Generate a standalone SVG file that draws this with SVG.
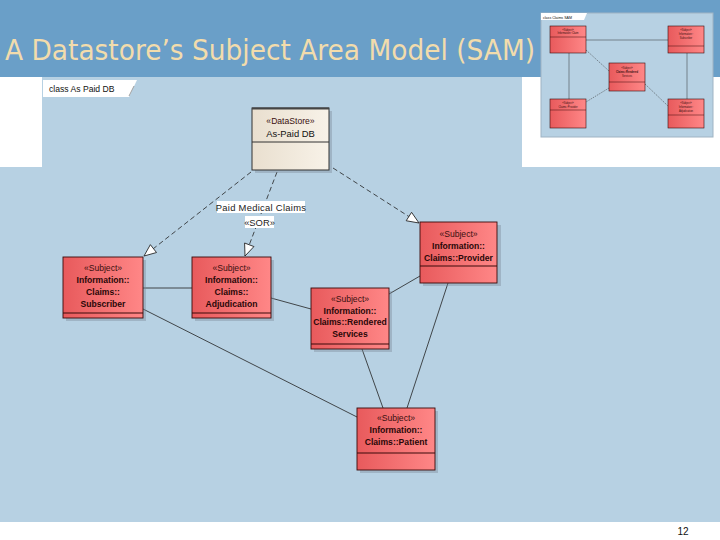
<svg xmlns="http://www.w3.org/2000/svg" width="720" height="540" viewBox="0 0 720 540">
<defs>
<linearGradient id="red" x1="0" y1="0" x2="1" y2="0">
<stop offset="0" stop-color="#e85a5c"/>
<stop offset="1" stop-color="#ff8787"/>
</linearGradient>
<linearGradient id="cream" x1="0" y1="0" x2="1" y2="0">
<stop offset="0" stop-color="#e9dfcf"/>
<stop offset="1" stop-color="#f8f2e8"/>
</linearGradient>
<marker id="open" markerUnits="userSpaceOnUse" markerWidth="16" markerHeight="14" refX="13" refY="6" orient="auto">
<path d="M1,1 L13,6 L1,11 Z" fill="#ffffff" stroke="#222" stroke-width="0.8"/>
</marker>
<style>
.st{font-family:"Liberation Sans",Arial,sans-serif;font-size:8.6px;fill:#3a1010;text-anchor:middle}
.nm{font-family:"Liberation Sans",Arial,sans-serif;font-size:8.6px;font-weight:bold;fill:#2a0808;text-anchor:middle}
.box{fill:url(#red);stroke:#3a0a0a;stroke-width:0.9}
.shadow{fill:#7a8a99;opacity:0.4}
.div{stroke:#3a0a0a;stroke-width:1.2}
.dash{fill:none;stroke:#222;stroke-width:0.8;stroke-dasharray:5,3}
.solid{fill:none;stroke:#222;stroke-width:0.8}
.lbl{font-family:"Liberation Sans",Arial,sans-serif;font-size:9.4px;fill:#222;text-anchor:middle}
.tt{font-family:"Liberation Sans",Arial,sans-serif;font-size:2.6px;fill:#3a1010;text-anchor:middle}
.tbox{fill:url(#red);stroke:#3a0a0a;stroke-width:0.6}
</style>
</defs>

<!-- background -->
<rect x="0" y="0" width="720" height="540" fill="#ffffff"/>
<rect x="0" y="0" width="720" height="77" fill="#6a9fc8"/>
<path d="M42,77 H522 V167 H720 V522 H0 V167 H42 Z" fill="#b7d1e3"/>
<text x="5" y="60" font-family="'DejaVu Sans',Verdana,sans-serif" font-size="28" fill="#f2dcac" textLength="530" lengthAdjust="spacingAndGlyphs">A Datastore’s Subject Area Model (SAM)</text>
<text x="683" y="535" font-family="'Liberation Sans',Arial,sans-serif" font-size="10" fill="#111" text-anchor="middle">12</text>

<!-- diagram frame tab -->
<g id="frame-tab">
<path d="M43,80 H137 L129,97 H43 Z" fill="#ffffff"/>
<path d="M134,86 L129,96" stroke="#888" stroke-width="0.8"/>
<text x="49" y="92" font-family="'Liberation Sans',Arial,sans-serif" font-size="8.6" fill="#111">class As Paid DB</text>
</g>

<!-- thumbnail -->
<g id="thumbnail">
<rect x="541" y="13" width="172" height="124" fill="#b7d1e3" stroke="#9fb3c3" stroke-width="1"/>
<path d="M541,13 H587 L584,20 H541 Z" fill="#ffffff"/>
<text x="543" y="18.5" font-family="'Liberation Sans',Arial,sans-serif" font-size="3.6" fill="#111">class Claims SAM</text>
<g fill="none" stroke="#333" stroke-width="0.5">
<path d="M586,40 H668"/>
<path d="M569,53 V99"/>
<path d="M687,53 V99"/>
<path d="M586,50 L609,71" stroke-dasharray="1.5,1"/>
<path d="M609,88 L586,102" stroke-dasharray="1.5,1"/>
<path d="M645,84 L668,106" stroke-dasharray="1.5,1"/>
</g>
<rect x="550" y="26" width="36" height="27" class="tbox"/>
<line x1="550" y1="37" x2="586" y2="37" stroke="#3a0a0a" stroke-width="0.5"/>
<text x="568" y="31" class="tt">«Subject»</text>
<text x="568" y="34" class="tt">Information::Claim</text>
<rect x="668" y="26" width="36" height="27" class="tbox"/>
<line x1="668" y1="46" x2="704" y2="46" stroke="#3a0a0a" stroke-width="0.5"/>
<text x="686" y="31" class="tt">«Subject»</text>
<text x="686" y="35" class="tt">Information::</text>
<text x="686" y="39" class="tt">Subscriber</text>
<rect x="609" y="63" width="36" height="28" class="tbox"/>
<line x1="609" y1="82" x2="645" y2="82" stroke="#3a0a0a" stroke-width="0.5"/>
<text x="627" y="69" class="tt">«Subject»</text>
<text x="627" y="73" class="tt" font-weight="bold">Claims::Rendered</text>
<text x="627" y="77" class="tt">Services</text>
<rect x="550" y="99" width="36" height="29" class="tbox"/>
<line x1="550" y1="110" x2="586" y2="110" stroke="#3a0a0a" stroke-width="0.5"/>
<text x="568" y="104" class="tt">«Subject»</text>
<text x="568" y="108" class="tt">Claims::Provider</text>
<rect x="668" y="99" width="36" height="29" class="tbox"/>
<line x1="668" y1="115" x2="704" y2="115" stroke="#3a0a0a" stroke-width="0.5"/>
<text x="686" y="104" class="tt">«Subject»</text>
<text x="686" y="108" class="tt">Information::</text>
<text x="686" y="112" class="tt">Adjudication</text>
</g>

<!-- connectors -->
<g id="connectors">
<path class="dash" d="M251,172 L144,256" marker-end="url(#open)"/>
<path class="dash" d="M277,172 L245,256" marker-end="url(#open)"/>
<path class="dash" d="M333,168 L419,223" marker-end="url(#open)"/>
<path class="solid" d="M143,288 H192"/>
<path class="solid" d="M271,298 L311,309"/>
<path class="solid" d="M389,294 L420,276"/>
<path class="solid" d="M448,283 L407,408"/>
<path class="solid" d="M362,349 L383,408"/>
<path class="solid" d="M143,309 L357,417"/>
<rect x="217" y="201" width="88" height="12" fill="#ffffff"/>
<text x="261" y="210.5" class="lbl" letter-spacing="0.3">Paid Medical Claims</text>
<rect x="245" y="216" width="29" height="12" fill="#ffffff"/>
<text x="259.5" y="225.5" class="lbl">«SOR»</text>
</g>

<!-- nodes -->
<g id="datastore">
<rect x="255" y="111" width="77" height="62" class="shadow"/>
<rect x="252" y="108" width="77" height="62" fill="url(#cream)" stroke="#333" stroke-width="1"/>
<line x1="252" y1="108.5" x2="329" y2="108.5" stroke="#444" stroke-width="2"/>
<line x1="252" y1="142" x2="329" y2="142" stroke="#333" stroke-width="1"/>
<text x="290.5" y="124" class="st" fill="#222">«DataStore»</text>
<text x="290.5" y="137" class="st" style="fill:#111;font-size:9.4px">As-Paid DB</text>
</g>

<g id="subscriber">
<rect x="66" y="260" width="80" height="61" class="shadow"/>
<rect x="63" y="257" width="80" height="61" class="box"/>
<line x1="63" y1="313" x2="143" y2="313" class="div"/>
<text x="103" y="271" class="st">«Subject»</text>
<text x="103" y="283" class="nm">Information::</text>
<text x="103" y="295" class="nm">Claims::</text>
<text x="103" y="307" class="nm">Subscriber</text>
</g>

<g id="adjudication">
<rect x="195" y="260" width="79" height="61" class="shadow"/>
<rect x="192" y="257" width="79" height="61" class="box"/>
<line x1="192" y1="313" x2="271" y2="313" class="div"/>
<text x="231.5" y="271" class="st">«Subject»</text>
<text x="231.5" y="283" class="nm">Information::</text>
<text x="231.5" y="295" class="nm">Claims::</text>
<text x="231.5" y="307" class="nm">Adjudication</text>
</g>

<g id="provider">
<rect x="423" y="225" width="78" height="61" class="shadow"/>
<rect x="420" y="222" width="77" height="61" class="box"/>
<line x1="420" y1="266" x2="497" y2="266" class="div"/>
<text x="458.5" y="237" class="st">«Subject»</text>
<text x="458.5" y="249" class="nm">Information::</text>
<text x="458.5" y="261" class="nm">Claims::Provider</text>
</g>

<g id="rendered">
<rect x="314" y="291" width="78" height="61" class="shadow"/>
<rect x="311" y="288" width="78" height="61" class="box"/>
<line x1="311" y1="344" x2="389" y2="344" class="div"/>
<text x="350" y="302" class="st">«Subject»</text>
<text x="350" y="314" class="nm">Information::</text>
<text x="350" y="325" class="nm">Claims::Rendered</text>
<text x="350" y="337" class="nm">Services</text>
</g>

<g id="patient">
<rect x="360" y="411" width="78" height="62" class="shadow"/>
<rect x="357" y="408" width="78" height="62" class="box"/>
<line x1="357" y1="453" x2="435" y2="453" class="div"/>
<text x="396" y="421" class="st">«Subject»</text>
<text x="396" y="433" class="nm">Information::</text>
<text x="396" y="445" class="nm">Claims::Patient</text>
</g>
</svg>
